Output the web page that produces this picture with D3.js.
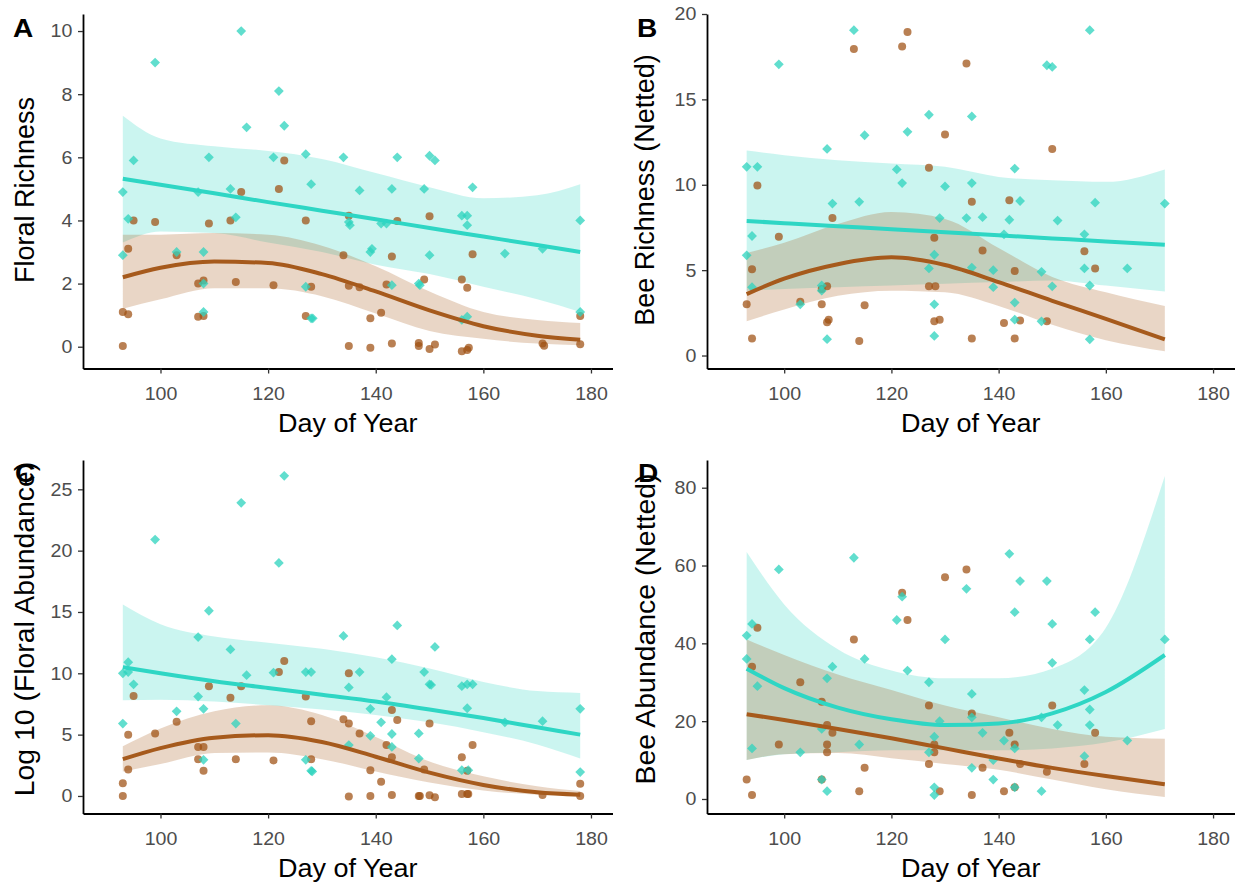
<!DOCTYPE html>
<html>
<head>
<meta charset="utf-8">
<script src="https://cdn.jsdelivr.net/npm/d3@7"></script>
<style>
  body { margin: 0; background: #fff; }
  svg { display: block; font-family: "Liberation Sans", Arial, sans-serif; }
</style>
</head>
<body>
<svg id="chart" width="1238" height="882"></svg>
<script>
// colours of the two groups
var tealColor = "#2ED6C4", brownColor = "#A65A1C";

// ---------- A : floral richness ----------
var floralRichTeal = [[93,4.9],[93,2.9],[94,4.05],[95,5.9],[99,9.0],[103,3.0],[107,4.9],[108,3.0],[108,2.0],[108,1.1],
  [109,6.0],[113,5.0],[114,4.1],[115,10],[116,6.95],[121,6.0],[122,8.1],[123,7.0],[127,1.9],[127,6.1],[128,5.15],[128,0.9],
  [128.3,0.9],[134,6.0],[135,3.95],[135.2,3.85],[137,4.95],[139,3.0],[139.3,3.1],[141,3.9],[142,3.9],[143,5.0],[143,1.95],
  [144,6.0],[148,2.0],[148.2,1.95],[149,5.0],[150,6.05],[150,2.9],[151,5.9],[156,4.15],[156,0.85],[157,4.15],[157,3.85],
  [157,0.95],[158,5.05],[164,2.95],[171,3.1],[178,4.0],[178,1.1]];
var floralRichBrown = [[93,1.1],[93,0.02],[94,3.1],[94,1.03],[95,4.0],[99,3.95],[103,2.9],[107,2.0],[107,0.95],[108,0.97],
  [108,2.1],[109,3.9],[113,4.0],[114,2.05],[115,4.9],[121,1.95],[122,5.0],[123,5.9],[127,4.0],[127,0.97],[128,1.9],[134,2.9],
  [135,4.15],[135,0.02],[135,1.93],[137,1.88],[139,0.9],[139,-0.03],[141,1.08],[142,1.97],[143,2.86],[143,0.1],[144,3.98],
  [148,0.12],[148,0.02],[149,2.13],[150,-0.07],[150,4.13],[151,0.07],[156,2.13],[156,-0.14],[157,-0.1],[157.3,-0.03],
  [157,1.87],[158,2.93],[171,0.1],[171.3,0.03],[178,0.97],[178,0.08]];
var fitDaysAC = [93,100,110,120,130,140,150,160,170,178];
var floralRichTealFit = [5.32,5.13,4.86,4.58,4.31,4.04,3.76,3.49,3.22,3.0];
var floralRichTealHi  = [7.32,6.6,6.35,6.2,5.95,5.5,5.05,4.7,4.8,5.15];
var floralRichTealLo  = [3.3,3.65,3.6,3.3,3.0,2.6,2.3,1.9,1.5,1.1];
var floralRichBrownFit = [2.2,2.5,2.7,2.65,2.3,1.75,1.15,0.65,0.35,0.22];
var floralRichBrownHi  = [3.55,3.55,3.6,3.55,3.2,2.55,1.75,1.1,0.85,0.75];
var floralRichBrownLo  = [1.2,1.5,1.85,1.85,1.6,1.05,0.5,0.25,0.1,0.05];

// ---------- B : bee richness (netted) ----------
var beeRichTeal = [[93,11.05],[93,5.87],[94,7.0],[94,4.0],[95,11.05],[99,17.05],[103,3.0],[107,4.1],[107,3.8],[108,12.1],
  [108,0.96],[109,8.9],[113,19.05],[114,9.0],[115,12.9],[121,10.9],[122,10.1],[123,13.1],[127,14.1],[127,5.1],[128,5.9],
  [128,3.0],[128,1.15],[129,8.05],[130,9.9],[134,8.05],[135,14.0],[135,10.1],[135,5.15],[137,8.1],[139,5.0],[139,4.0],
  [141,7.1],[142,7.95],[143,10.95],[143,3.1],[143,2.1],[144,9.05],[148,2.0],[148,4.9],[149,17.0],[150,16.9],[150,4.05],
  [151,7.9],[156,7.1],[156,5.1],[157,19.05],[157,4.1],[157,0.95],[158,8.95],[164,5.1],[171,8.9]];
var beeRichBrown = [[93,3.0],[94,5.05],[94,1.0],[95,9.95],[99,6.95],[103,3.15],[107,3.9],[107,3.0],[108,4.05],[108,1.95],
  [108.3,2.1],[109,8.05],[113,17.95],[114,0.85],[115,2.95],[122,18.1],[123,18.95],[127,11.0],[127,4.05],[128,6.9],[128,2.0],
  [128.2,4.05],[129,2.1],[130,12.95],[134,17.1],[135,1.0],[135,9.0],[137,6.15],[141,1.9],[142,9.1],[143,1.0],[143,4.95],
  [144,2.05],[149,2.0],[150,12.1],[156,6.1],[158,5.1]];
var fitDaysBD = [93,100,110,120,130,140,150,160,171];
var beeRichTealFit = [7.88,7.75,7.57,7.4,7.22,7.04,6.86,6.68,6.49];
var beeRichTealHi  = [12.0,11.73,11.44,11.24,11.05,10.46,10.26,10.17,10.9];
var beeRichTealLo  = [3.8,3.9,4.0,4.1,4.2,4.3,4.4,4.1,3.75];
var beeRichBrownFit = [3.6,4.5,5.35,5.75,5.3,4.3,3.2,2.15,0.95];
var beeRichBrownHi  = [6.0,6.6,7.7,8.4,8.0,6.3,4.6,3.7,2.9];
var beeRichBrownLo  = [2.0,2.7,3.5,3.8,3.7,2.9,1.8,0.9,0.25];

// ---------- C : log 10 (floral abundance) ----------
var floralAbunTeal = [[93,10.0],[93,5.9],[94,10.1],[94,10.9],[95,9.1],[99,20.9],[103,6.9],[107,12.95],[107,8.1],[108,7.1],
  [108,2.95],[109,15.1],[113,11.95],[114,5.9],[115,23.9],[116,9.85],[121,10.05],[122,19.0],[123,26.1],[127,10.1],[127,2.95],
  [128,10.1],[128,2.05],[128.2,2.0],[134,13.05],[135,8.85],[135,4.15],[137,10.1],[139,7.1],[139,4.9],[141,6.0],[142,8.05],
  [143,11.15],[143,5.05],[143,4.0],[144,13.9],[148,5.1],[148,3.05],[149,10.1],[150,9.1],[150.3,9.05],[151,12.15],[156,8.95],
  [156,2.1],[157,9.1],[157,7.15],[157.2,2.1],[158,9.1],[164,6.0],[171,6.1],[178,7.1],[178,1.95]];
var floralAbunBrown = [[93,0],[93,1.03],[94,2.15],[94,5.0],[95,8.15],[99,5.1],[103,6.05],[107,4.0],[107,3.0],[108,4.0],
  [108,2.05],[109,8.95],[113,8.0],[114,3.0],[115,8.95],[121,2.9],[122,10.1],[123,11.0],[127,8.1],[128,6.1],[128,3.0],
  [134,6.25],[135,5.9],[135,10.0],[135,-0.05],[137,5.1],[139,2.1],[139,0],[141,1.15],[142,4.15],[143,0.08],[143,7.0],
  [143,3.15],[144,6.2],[148,0],[148.2,0],[149,2.15],[150,0.05],[150,5.9],[151,-0.1],[156,3.15],[156,0.15],[157,0.15],
  [157.2,0.15],[157,2.05],[158,4.15],[171,0.08],[178,1.0],[178,0]];
var floralAbunTealFit = [10.5,10.0,9.35,8.8,8.25,7.7,7.05,6.35,5.6,5.0];
var floralAbunTealHi  = [15.6,14.0,13.0,12.5,12.0,11.3,10.4,9.3,8.55,8.4];
var floralAbunTealLo  = [7.8,7.85,7.7,7.4,7.05,6.6,6.0,5.2,4.2,3.05];
var floralAbunBrownFit = [3.0,3.9,4.75,4.95,4.4,3.2,1.9,0.9,0.3,0.1];
var floralAbunBrownHi  = [4.05,5.5,6.9,7.4,6.6,4.8,2.8,1.6,0.8,0.4];
var floralAbunBrownLo  = [2.0,2.6,3.5,3.55,3.0,2.0,1.1,0.45,0.1,0.0];

// ---------- D : bee abundance (netted) ----------
var beeAbunTeal = [[93,42],[93,36],[94,45],[94,13],[95,29],[99,59],[103,12],[107,18],[107,5],[108,31],[108,2],[109,34],
  [113,62],[114,14],[115,36],[121,46],[122,52],[123,33],[127,30],[127,12],[128,16],[128,3],[128,1],[129,20],[130,41],
  [134,54],[135,27],[135,21],[135,8],[137,17],[139,10],[139,5],[141,15],[142,63],[143,13],[143,48],[143,3],[144,56],
  [148,2],[148,21],[149,56],[150,35],[150,45],[151,19],[156,28],[156,11],[157,41],[157,19],[157,23],[158,48],[164,15],[171,41]];
var beeAbunBrown = [[93,5],[94,34],[94,1],[95,44],[99,14],[103,30],[107,25],[107,5],[108,14],[108,12],[108,19],[109,17],
  [113,41],[114,2],[115,8],[122,53],[123,46],[127,24],[127,9],[128,14],[128,12],[129,2],[130,57],[134,59],[135,22],[135,1],
  [137,8],[141,2],[142,17],[143,14],[143,3],[144,9],[149,7],[150,24],[156,9],[158,17]];
var beeAbunTealFit = [33.5,28.5,23.5,20.5,19.0,19.4,22.0,27.5,37.0];
var beeAbunTealHi  = [63.5,50,38.5,33,31,31,33.5,44,83];
var beeAbunTealLo  = [10,11.5,12,12.5,12.5,12.5,13,14.5,18];
var beeAbunBrownFit = [21.8,20.3,18.0,15.6,13.0,10.4,8.0,5.9,3.8];
var beeAbunBrownHi  = [41,37,32,28,24,21,18,16,15.5];
var beeAbunBrownLo  = [10,11.5,11.8,10.5,9,7.5,5,2.5,0.5];

// ---------- panel layout ----------
var dayTicks = [100, 120, 140, 160, 180];
var panels = [
  { letter: "A", title: "Floral Richness", x0: 83, x1: 612.5, yTop: 14, yBot: 368.5, yDom: [-0.69, 10.54],
    yTicks: [0,2,4,6,8,10], titleX: 34, titleY: 190, titleSize: 27, letterX: 13, letterY: 37, xTitleY: 432,
    teal: floralRichTeal, brown: floralRichBrown, fitDays: fitDaysAC,
    tFit: floralRichTealFit, tHi: floralRichTealHi, tLo: floralRichTealLo,
    bFit: floralRichBrownFit, bHi: floralRichBrownHi, bLo: floralRichBrownLo },
  { letter: "B", title: "Bee Richness (Netted)", x0: 707, x1: 1234.5, yTop: 14, yBot: 368.5, yDom: [-0.76, 20],
    yTicks: [0,5,10,15,20], titleX: 654, titleY: 190, titleSize: 27, letterX: 637, letterY: 37, xTitleY: 432,
    teal: beeRichTeal, brown: beeRichBrown, fitDays: fitDaysBD,
    tFit: beeRichTealFit, tHi: beeRichTealHi, tLo: beeRichTealLo,
    bFit: beeRichBrownFit, bHi: beeRichBrownHi, bLo: beeRichBrownLo },
  { letter: "C", title: "Log 10 (Floral Abundance)", x0: 83, x1: 612.5, yTop: 460, yBot: 813.5, yDom: [-1.43, 27.39],
    yTicks: [0,5,10,15,20,25], titleX: 34, titleY: 629, titleSize: 28.4, letterX: 15, letterY: 482, xTitleY: 877,
    teal: floralAbunTeal, brown: floralAbunBrown, fitDays: fitDaysAC,
    tFit: floralAbunTealFit, tHi: floralAbunTealHi, tLo: floralAbunTealLo,
    bFit: floralAbunBrownFit, bHi: floralAbunBrownHi, bLo: floralAbunBrownLo },
  { letter: "D", title: "Bee Abundance (Netted)", x0: 707, x1: 1234.5, yTop: 460, yBot: 813.5, yDom: [-3.73, 87.12],
    yTicks: [0,20,40,60,80], titleX: 655, titleY: 629, titleSize: 28.4, letterX: 638, letterY: 482, xTitleY: 877,
    teal: beeAbunTeal, brown: beeAbunBrown, fitDays: fitDaysBD,
    tFit: beeAbunTealFit, tHi: beeAbunTealHi, tLo: beeAbunTealLo,
    bFit: beeAbunBrownFit, bHi: beeAbunBrownHi, bLo: beeAbunBrownLo }
];

var svg = d3.select("#chart");

panels.forEach(function (p) {
  // x tick 100 and 180 line up with the figure, domain stretched to the axis ends
  var x = d3.scaleLinear().domain([85.6, 184]).range([p.x0, p.x1]);
  var y = d3.scaleLinear().domain(p.yDom).range([p.yBot, p.yTop]);
  var g = svg.append("g");

  // ribbons
  function band(days, lo, hi) {
    return d3.area().curve(d3.curveMonotoneX)
      .x(function (d, i) { return x(days[i]); })
      .y0(function (d, i) { return y(lo[i]); })
      .y1(function (d, i) { return y(hi[i]); })(days);
  }
  g.append("path").attr("d", band(p.fitDays, p.tLo, p.tHi)).attr("fill", tealColor).attr("fill-opacity", 0.25);
  g.append("path").attr("d", band(p.fitDays, p.bLo, p.bHi)).attr("fill", brownColor).attr("fill-opacity", 0.25);

  // points
  g.selectAll(".pb").data(p.brown).enter().append("circle")
    .attr("cx", function (d) { return x(d[0]); })
    .attr("cy", function (d) { return y(d[1]); })
    .attr("r", 4)
    .attr("fill", "#9E4F10").attr("fill-opacity", 0.72);
  var diamond = d3.symbol().type(d3.symbolSquare).size(48);
  g.selectAll(".pt").data(p.teal).enter().append("path")
    .attr("d", diamond)
    .attr("transform", function (d) { return "translate(" + x(d[0]) + "," + y(d[1]) + ") rotate(45)"; })
    .attr("fill", "#2CD3BE").attr("fill-opacity", 0.75);

  // fitted lines
  function fit(days, vals) {
    return d3.line().curve(d3.curveMonotoneX)
      .x(function (d, i) { return x(days[i]); })
      .y(function (d, i) { return y(vals[i]); })(days);
  }
  g.append("path").attr("d", fit(p.fitDays, p.bFit)).attr("fill", "none")
    .attr("stroke", brownColor).attr("stroke-width", 4);
  g.append("path").attr("d", fit(p.fitDays, p.tFit)).attr("fill", "none")
    .attr("stroke", tealColor).attr("stroke-width", 4);

  // axes
  var xAxis = g.append("g").attr("transform", "translate(0," + p.yBot + ")")
    .call(d3.axisBottom(x).tickValues(dayTicks).tickSize(5).tickSizeOuter(0).tickPadding(13));
  var yAxis = g.append("g").attr("transform", "translate(" + p.x0 + ",0)")
    .call(d3.axisLeft(y).tickValues(p.yTicks).tickSize(5).tickSizeOuter(0).tickPadding(5));
  [xAxis, yAxis].forEach(function (a) {
    a.select(".domain").attr("stroke", "#000").attr("stroke-width", 1.8);
    a.selectAll(".tick line").attr("stroke", "#333").attr("stroke-width", 1.3);
    a.selectAll(".tick text").attr("fill", "#4D4D4D").style("font-size", "18.5px")
      .style("font-family", "'Liberation Sans', Arial, sans-serif")
      .attr("transform", "scale(1.06,1)");
  });

  // titles
  svg.append("text")
    .attr("transform", "translate(" + ((p.x0 + p.x1) / 2) + "," + p.xTitleY + ") scale(1.08,1)")
    .attr("text-anchor", "middle").style("font-size", "25px").attr("fill", "#000")
    .text("Day of Year");
  svg.append("text")
    .attr("transform", "translate(" + p.titleX + "," + p.titleY + ") rotate(-90)")
    .attr("text-anchor", "middle").style("font-size", p.titleSize + "px").attr("fill", "#000")
    .text(p.title);
  svg.append("text")
    .attr("transform", "translate(" + p.letterX + "," + p.letterY + ") scale(1.08,1)")
    .style("font-size", "26px").style("font-weight", "bold").attr("fill", "#000")
    .text(p.letter);
});
</script>
</body>
</html>
